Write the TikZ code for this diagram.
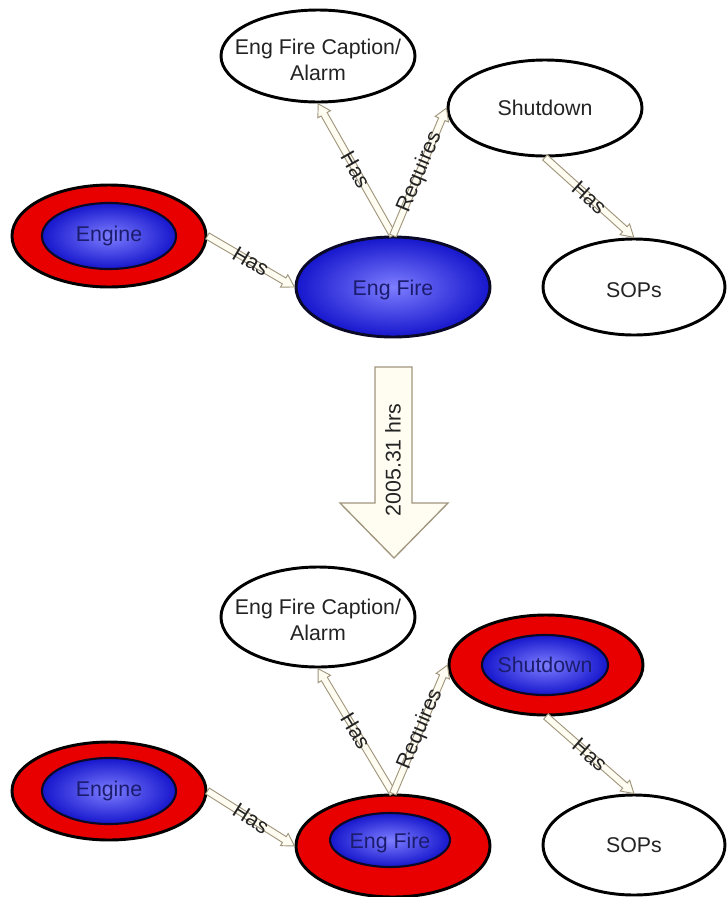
\documentclass[tikz,border=0pt]{standalone}
\usepackage{fontspec}
\setmainfont{Liberation Sans}
\usetikzlibrary{shapes.geometric,calc}
\definecolor{ringred}{RGB}{232,0,0}
\definecolor{bluein}{RGB}{125,125,255}
\definecolor{blueout}{RGB}{22,22,205}
\definecolor{navytext}{RGB}{28,28,110}
\definecolor{darktext}{RGB}{35,35,35}
\definecolor{arrfill}{RGB}{255,253,242}
\definecolor{arredge}{RGB}{160,150,125}
\tikzset{
  lbl/.style={font=\fontsize{16}{17}\selectfont, inner sep=0pt},
  txtdark/.style={lbl, text=darktext, align=center},
  txtnavy/.style={lbl, text=navytext, align=center},
  plainell/.style 2 args={ellipse, draw=black, line width=2.2pt, fill=white,
    minimum width=#1, minimum height=#2, inner sep=0pt},
  ringell/.style 2 args={ellipse, draw=black, line width=2.2pt, fill=ringred,
    minimum width=#1, minimum height=#2, inner sep=0pt},
  blueell/.style 2 args={ellipse, draw={rgb,255:red,10;green,10;blue,40}, line width=1.6pt,
    shading=radial, inner color=bluein, outer color=blueout,
    minimum width=#1, minimum height=#2, inner sep=0pt},
  relarr/.style={draw=arredge, fill=arrfill, line width=0.7pt, line join=miter},
  rellab/.style={lbl, text=darktext},
  bigarr/.style={draw=arredge, fill=arrfill, line width=1pt, line join=miter}
}
% block arrow from #1 to #2, label #3, label node name #4
\newcommand\relarrow[4]{%
  \path (#1); \pgfgetlastxy{\rax}{\ray}%
  \path (#2); \pgfgetlastxy{\rbx}{\rby}%
  \pgfmathsetmacro\rang{atan2(\rby-\ray,\rbx-\rax)}%
  \pgfmathsetmacro\rlen{veclen(\rbx-\rax,\rby-\ray)}%
  \pgfmathsetmacro\rlab{\rang>90 ? \rang-180 : (\rang<-90 ? \rang+180 : \rang)}%
  \pgfmathsetmacro\rneck{\rlen-9}%
  \pgfmathsetmacro\rmid{\rlen/2}%
  \begin{scope}[shift={(\rax,\ray)}, rotate=\rang]
    \draw[relarr] (0pt,-2.6pt) -- (\rneck pt,-2.6pt) -- (\rneck pt,-5.4pt)
      -- (\rlen pt,0pt) -- (\rneck pt,5.4pt) -- (\rneck pt,2.6pt) -- (0pt,2.6pt) -- cycle;
    \node[rellab, rotate=\rlab] (#4) at (\rmid pt,0pt) {#3};
  \end{scope}%
}
\begin{document}
\begin{tikzpicture}[x=0.75pt, y=-0.75pt]
\fill[white] (0,0) rectangle (728,897);
\useasboundingbox (0,0) rectangle (728,897);

% ---------- top state ----------
\node[plainell={145.5pt}{69pt}] (capT) at (318,56) {};
\node[txtdark] (capTt) at (318,60) {Eng Fire Caption/\\[2pt]Alarm};
\node[plainell={145.5pt}{72pt}] (shutT) at (545,108) {};
\node[txtdark] (shutTt) at (545,108) {Shutdown};
\node[ringell={145.5pt}{76.5pt}] (engT) at (109,236) {};
\node[blueell={100.5pt}{49.5pt}] (engTi) at (109,236) {};
\node[txtnavy] (engTt) at (109,236) {Engine};
\node[blueell={145.5pt}{75pt}, line width=2.2pt] (fireT) at (393,287) {};
\node[txtnavy] (fireTt) at (393,290) {Eng Fire};
\node[plainell={136.5pt}{72pt}] (sopT) at (634,287) {};
\node[txtdark] (sopTt) at (634,290) {SOPs};

\relarrow{engT.east}{fireT.west}{Has}{l1}
\relarrow{fireT.north}{capT.south}{Has}{l2}
\relarrow{fireT.north}{shutT.west}{Requires}{l3}
\relarrow{shutT.south}{sopT.north}{Has}{l4}

% ---------- transition arrow ----------
\draw[bigarr] (375,367) -- (412,367) -- (412,503) -- (448,503) -- (394,558)
  -- (340,503) -- (375,503) -- cycle;
\node[txtdark, rotate=90] (hrs) at (393,460) {2005.31 hrs};

% ---------- bottom state ----------
\node[plainell={145.5pt}{75pt}] (capB) at (318,617) {};
\node[txtdark] (capBt) at (318,620) {Eng Fire Caption/\\[2pt]Alarm};
\node[ringell={145.5pt}{75pt}] (shutB) at (546,665) {};
\node[blueell={94.5pt}{45pt}] (shutBi) at (545,665) {};
\node[txtnavy] (shutBt) at (545,665) {Shutdown};
\node[ringell={145.5pt}{73.5pt}] (engB) at (109,791) {};
\node[blueell={100.5pt}{49.5pt}] (engBi) at (109,791) {};
\node[txtnavy] (engBt) at (109,791) {Engine};
\node[ringell={145.5pt}{76.5pt}] (fireB) at (393,846) {};
\node[blueell={90pt}{40.5pt}] (fireBi) at (390,840) {};
\node[txtnavy] (fireBt) at (390,843) {Eng Fire};
\node[plainell={136.5pt}{75pt}] (sopB) at (634,845) {};
\node[txtdark] (sopBt) at (634,845) {SOPs};

\relarrow{engB.east}{fireB.west}{Has}{l5}
\relarrow{fireB.north}{capB.south}{Has}{l6}
\relarrow{fireB.north}{shutB.west}{Requires}{l7}
\relarrow{shutB.south}{sopB.north}{Has}{l8}
\end{tikzpicture}
\end{document}
